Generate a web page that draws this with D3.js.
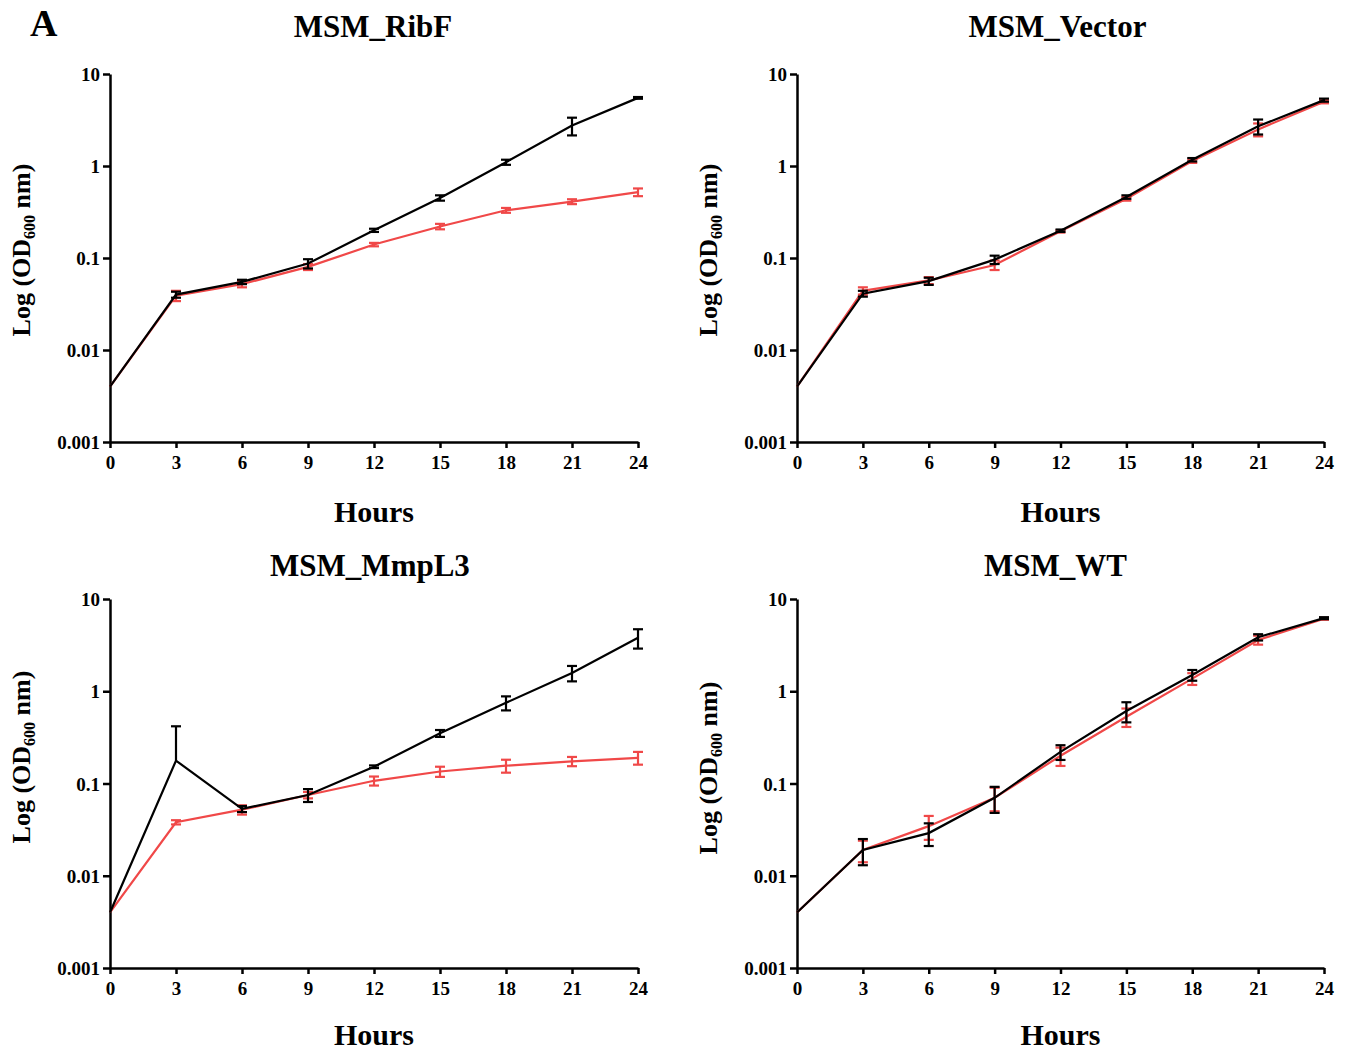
<!DOCTYPE html>
<html>
<head>
<script src="https://d3js.org/d3.v7.min.js"></script>
<style>
body { margin: 0; background: #fff; }
text { font-family: "Liberation Serif", "Times New Roman", serif; font-weight: bold; fill: #000; }
</style>
</head>
<body>
<script>
// sampling times (hours) and y tick values
var hours = [0, 3, 6, 9, 12, 15, 18, 21, 24];
var yTicks = [0.001, 0.01, 0.1, 1, 10];
var yTickLabels = ["0.001", "0.01", "0.1", "1", "10"];

// MSM_RibF
var ribfBlack    = [0.004, 0.040, 0.055, 0.087, 0.20, 0.45, 1.10, 2.75, 5.5];
var ribfBlackErr = [0, 0.003, 0.003, 0.010, 0.008, 0.03, 0.07, 0.60, 0.12];
var ribfRed      = [0.004, 0.039, 0.052, 0.080, 0.14, 0.22, 0.33, 0.41, 0.52];
var ribfRedErr   = [0, 0.005, 0.004, 0.006, 0.006, 0.015, 0.02, 0.025, 0.05];

// MSM_Vector
var vecBlack    = [0.004, 0.041, 0.056, 0.096, 0.198, 0.46, 1.17, 2.7, 5.2];
var vecBlackErr = [0, 0.003, 0.005, 0.010, 0.006, 0.02, 0.05, 0.5, 0.2];
var vecRed      = [0.004, 0.044, 0.057, 0.084, 0.195, 0.44, 1.13, 2.5, 5.0];
var vecRedErr   = [0, 0.004, 0.005, 0.010, 0.006, 0.02, 0.05, 0.4, 0.2];

// MSM_MmpL3
var mmpBlack    = [0.004, 0.177, 0.053, 0.075, 0.152, 0.35, 0.75, 1.58, 3.8];
var mmpBlackErr = [0, 0.24, 0.004, 0.012, 0.005, 0.03, 0.13, 0.30, 0.9];
var mmpRed      = [0.004, 0.038, 0.052, 0.075, 0.107, 0.135, 0.156, 0.174, 0.19];
var mmpRedErr   = [0, 0.002, 0.006, 0.006, 0.012, 0.017, 0.025, 0.02, 0.03];

// MSM_WT
var wtBlack    = [0.004, 0.019, 0.029, 0.070, 0.22, 0.61, 1.50, 3.85, 6.2];
var wtBlackErr = [0, 0.006, 0.008, 0.022, 0.04, 0.15, 0.20, 0.30, 0.15];
var wtRed      = [0.004, 0.019, 0.0345, 0.070, 0.20, 0.53, 1.37, 3.6, 6.1];
var wtRedErr   = [0, 0.005, 0.010, 0.020, 0.045, 0.12, 0.20, 0.40, 0.15];

var RED = "#f04848";

var svg = d3.select("body").append("svg")
    .attr("width", 1348)
    .attr("height", 1052);

svg.append("text")
    .attr("x", 30).attr("y", 36)
    .style("font-size", "38px")
    .text("A");

var panels = [
  {title: "MSM_RibF",   x0: 110, x1: 638,  y0: 74,  y1: 442, ty: 37,  tdx: -1, ylab: 250, hy: 522,  black: ribfBlack, blackErr: ribfBlackErr, red: ribfRed, redErr: ribfRedErr},
  {title: "MSM_Vector", x0: 797, x1: 1324, y0: 74,  y1: 442, ty: 37,  tdx: -3, ylab: 250, hy: 522,  black: vecBlack,  blackErr: vecBlackErr,  red: vecRed,  redErr: vecRedErr},
  {title: "MSM_MmpL3",  x0: 110, x1: 638,  y0: 599, y1: 968, ty: 576, tdx: -4, ylab: 757, hy: 1045, black: mmpBlack,  blackErr: mmpBlackErr,  red: mmpRed,  redErr: mmpRedErr},
  {title: "MSM_WT",     x0: 797, x1: 1324, y0: 599, y1: 968, ty: 576, tdx: -5, ylab: 768, hy: 1045, black: wtBlack,   blackErr: wtBlackErr,   red: wtRed,   redErr: wtRedErr}
];

panels.forEach(function(p) {
  var x = d3.scaleLinear().domain([0, 24]).range([p.x0, p.x1]);
  var y = d3.scaleLog().domain([0.001, 10]).range([p.y1, p.y0]);
  var g = svg.append("g");

  // title
  g.append("text")
      .attr("x", (p.x0 + p.x1) / 2 + p.tdx)
      .attr("y", p.ty)
      .attr("text-anchor", "middle")
      .style("font-size", "31px")
      .text(p.title);

  // x axis
  var xAxis = d3.axisBottom(x).tickValues(hours).tickSize(6).tickSizeOuter(0).tickPadding(7);
  var gx = g.append("g")
      .attr("transform", "translate(0," + p.y1 + ")")
      .call(xAxis);
  // y axis
  var yAxis = d3.axisLeft(y).tickValues(yTicks)
      .tickFormat(function(d, i) { return yTickLabels[i]; })
      .tickSize(7).tickSizeOuter(0).tickPadding(3);
  var gy = g.append("g")
      .attr("transform", "translate(" + p.x0 + ",0)")
      .call(yAxis);

  [gx, gy].forEach(function(a) {
    a.select(".domain").attr("stroke", "#000").attr("stroke-width", 2.5);
    a.selectAll(".tick line").attr("stroke", "#000").attr("stroke-width", 2.5);
    a.selectAll(".tick text")
        .attr("fill", "#000")
        .style("font-family", "'Liberation Serif', serif")
        .style("font-weight", "bold")
        .style("font-size", "19px");
  });
  gx.selectAll(".tick text").attr("dy", "0.75em");
  gy.selectAll(".tick text").attr("dy", "0.35em");

  // axis labels
  g.append("text")
      .attr("x", (p.x0 + p.x1) / 2)
      .attr("y", p.hy)
      .attr("text-anchor", "middle")
      .style("font-size", "30px")
      .text("Hours");

  var yl = g.append("text")
      .attr("transform", "translate(" + (p.x0 - 80) + "," + p.ylab + ") rotate(-90)")
      .attr("text-anchor", "middle")
      .style("font-size", "26px");
  yl.append("tspan").text("Log (OD");
  yl.append("tspan").attr("dy", 5).style("font-size", "16px").text("600");
  yl.append("tspan").attr("dy", -5).text(" nm)");

  // series: red first, black on top
  [[p.red, p.redErr, RED], [p.black, p.blackErr, "#000"]].forEach(function(s) {
    var vals = s[0], errs = s[1], col = s[2];
    var pts = hours.map(function(h, i) { return {h: h, v: vals[i], e: errs[i]}; });
    var line = d3.line().x(function(d) { return x(d.h); }).y(function(d) { return y(d.v); });
    g.append("path")
        .datum(pts)
        .attr("d", line)
        .attr("fill", "none")
        .attr("stroke", col)
        .attr("stroke-width", 2.2);

    var eb = g.selectAll(null)
        .data(pts.filter(function(d) { return d.e > 0; }))
      .enter().append("g")
        .attr("stroke", col)
        .attr("stroke-width", 2.2);
    eb.append("line")
        .attr("x1", function(d) { return x(d.h); })
        .attr("x2", function(d) { return x(d.h); })
        .attr("y1", function(d) { return y(d.v + d.e); })
        .attr("y2", function(d) { return d.v - d.e > 0 ? y(d.v - d.e) : y(d.v); });
    eb.append("line")
        .attr("x1", function(d) { return x(d.h) - 5; })
        .attr("x2", function(d) { return x(d.h) + 5; })
        .attr("y1", function(d) { return y(d.v + d.e); })
        .attr("y2", function(d) { return y(d.v + d.e); });
    eb.filter(function(d) { return d.v - d.e > 0; }).append("line")
        .attr("x1", function(d) { return x(d.h) - 5; })
        .attr("x2", function(d) { return x(d.h) + 5; })
        .attr("y1", function(d) { return y(d.v - d.e); })
        .attr("y2", function(d) { return y(d.v - d.e); });
  });
});
</script>
</body>
</html>
